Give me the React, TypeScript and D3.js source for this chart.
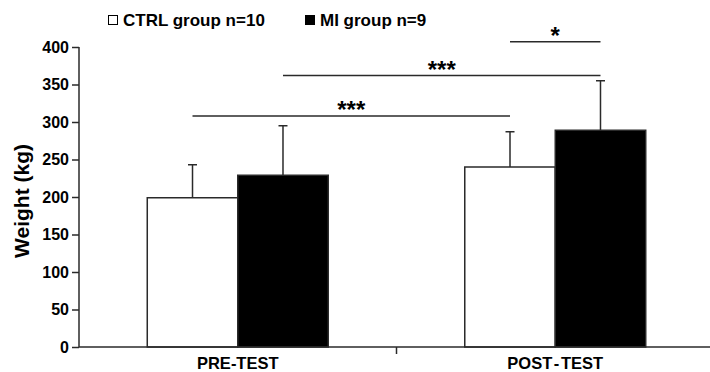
import * as React from 'react'
import * as d3 from 'd3'

const categories = ['PRE-TEST', 'POST-TEST']
const groups = ['CTRL group n=10', 'MI group n=9']
const ctrlMeans = [199, 240]
const ctrlErrors = [44, 47]
const miMeans = [229, 289]
const miErrors = [66, 66]
const yTicks = [0, 50, 100, 150, 200, 250, 300, 350, 400]
// significance brackets: from [category, group] to [category, group] at value
const brackets = [
  { from: [0, 0], to: [1, 0], at: 308, label: '***' },
  { from: [0, 1], to: [1, 1], at: 362, label: '***' },
  { from: [1, 0], to: [1, 1], at: 407, label: '*' },
]

const W = 710
const H = 372
const margin = { top: 47, right: -4, bottom: 25, left: 79 }
const FONT = '"Liberation Sans", Arial, Helvetica, sans-serif'
const INK = '#2a2a2a'

export default function App() {
  const ref = React.useRef<SVGSVGElement>(null)

  React.useEffect(() => {
    const svg = d3.select(ref.current)
    svg.selectAll('*').remove()

    const x0 = d3.scaleBand<string>()
      .domain(categories)
      .range([margin.left, W - margin.right])
    const bw = x0.bandwidth()
    const x1 = d3.scaleBand<string>()
      .domain(groups)
      .range([bw * 0.215, bw * 0.785])
    const y = d3.scaleLinear()
      .domain([0, 400])
      .range([H - margin.bottom, margin.top])

    const fills = ['#ffffff', '#000000']
    const means = [ctrlMeans, miMeans]
    const errors = [ctrlErrors, miErrors]

    const center = (c: number, g: number) =>
      (x0(categories[c]) as number) + (x1(groups[g]) as number) + x1.bandwidth() / 2

    // bars
    groups.forEach((grp, gi) => {
      svg.append('g')
        .selectAll('rect')
        .data(categories)
        .enter()
        .append('rect')
        .attr('x', d => (x0(d) as number) + (x1(grp) as number))
        .attr('y', (d, i) => y(means[gi][i]))
        .attr('width', x1.bandwidth())
        .attr('height', (d, i) => y(0) - y(means[gi][i]))
        .attr('fill', fills[gi])
        .attr('stroke', INK)
        .attr('stroke-width', 1.5)
    })

    // error bars
    const capW = 4.5
    groups.forEach((grp, gi) => {
      const g = svg.append('g').attr('stroke', INK).attr('stroke-width', 1.5)
      categories.forEach((cat, ci) => {
        const cx = center(ci, gi)
        const top = y(means[gi][ci] + errors[gi][ci])
        g.append('line')
          .attr('x1', cx).attr('x2', cx)
          .attr('y1', y(means[gi][ci])).attr('y2', top)
        g.append('line')
          .attr('x1', cx - capW).attr('x2', cx + capW)
          .attr('y1', top).attr('y2', top)
      })
    })

    // y axis
    const yAxis = d3.axisLeft(y).tickValues(yTicks).tickSize(7).tickPadding(3)
    const ya = svg.append('g')
      .attr('transform', `translate(${margin.left},0)`)
      .call(yAxis)
    ya.select('.domain').attr('d', `M0,${y(400)}V${y(0)}`)
    ya.selectAll('line, path').attr('stroke', INK).attr('stroke-width', 1.5)
    ya.selectAll('text')
      .attr('font-family', FONT)
      .attr('font-weight', 'bold')
      .attr('font-size', 16)
      .attr('fill', '#000')

    // x axis
    const xa = svg.append('g')
      .attr('stroke', INK)
      .attr('stroke-width', 1.5)
    xa.append('line')
      .attr('x1', margin.left).attr('x2', W - margin.right)
      .attr('y1', y(0)).attr('y2', y(0))
    xa.selectAll('line.tick')
      .data(categories.slice(1))
      .enter()
      .append('line')
      .attr('class', 'tick')
      .attr('x1', d => x0(d) as number).attr('x2', d => x0(d) as number)
      .attr('y1', y(0)).attr('y2', y(0) + 7)
    svg.append('g')
      .selectAll('text')
      .data(categories)
      .enter()
      .append('text')
      .attr('x', d => (x0(d) as number) + x1(groups[0])! + x1.bandwidth())
      .attr('y', y(0) + 22)
      .attr('text-anchor', 'middle')
      .attr('font-family', FONT)
      .attr('font-weight', 'bold')
      .attr('font-size', 16.5)
      .text(d => d === 'POST-TEST' ? 'POST - TEST' : d)
      .attr('word-spacing', d => d === 'POST-TEST' ? -3 : 0)

    // y label
    svg.append('text')
      .attr('transform', `translate(29,${(y(0) + y(400)) / 2 + 4}) rotate(-90)`)
      .attr('text-anchor', 'middle')
      .attr('font-family', FONT)
      .attr('font-weight', 'bold')
      .attr('font-size', 21)
      .text('Weight (kg)')

    // significance brackets
    brackets.forEach(b => {
      const xa1 = center(b.from[0], b.from[1])
      const xa2 = center(b.to[0], b.to[1])
      svg.append('line')
        .attr('x1', xa1).attr('x2', xa2)
        .attr('y1', y(b.at)).attr('y2', y(b.at))
        .attr('stroke', INK)
        .attr('stroke-width', 1.5)
      svg.append('text')
        .attr('x', (xa1 + xa2) / 2)
        .attr('y', y(b.at) + 2)
        .attr('text-anchor', 'middle')
        .attr('font-family', FONT)
        .attr('font-weight', 'bold')
        .attr('font-size', 24)
        .text(b.label)
    })

    // legend
    const legendX = [108, 305]
    const lg = svg.append('g')
    groups.forEach((grp, gi) => {
      lg.append('rect')
        .attr('x', legendX[gi] + 0.5).attr('y', 15.5)
        .attr('width', 9).attr('height', 9)
        .attr('fill', fills[gi])
        .attr('stroke', '#000')
        .attr('stroke-width', 1)
      lg.append('text')
        .attr('x', legendX[gi] + 15)
        .attr('y', 26)
        .attr('font-family', FONT)
        .attr('font-weight', 'bold')
        .attr('font-size', 17)
        .text(grp)
    })
  }, [])

  return (
    <svg
      ref={ref}
      width={W}
      height={H}
      style={{ position: 'absolute', left: 0, top: 0, background: '#fff' }}
    />
  )
}
